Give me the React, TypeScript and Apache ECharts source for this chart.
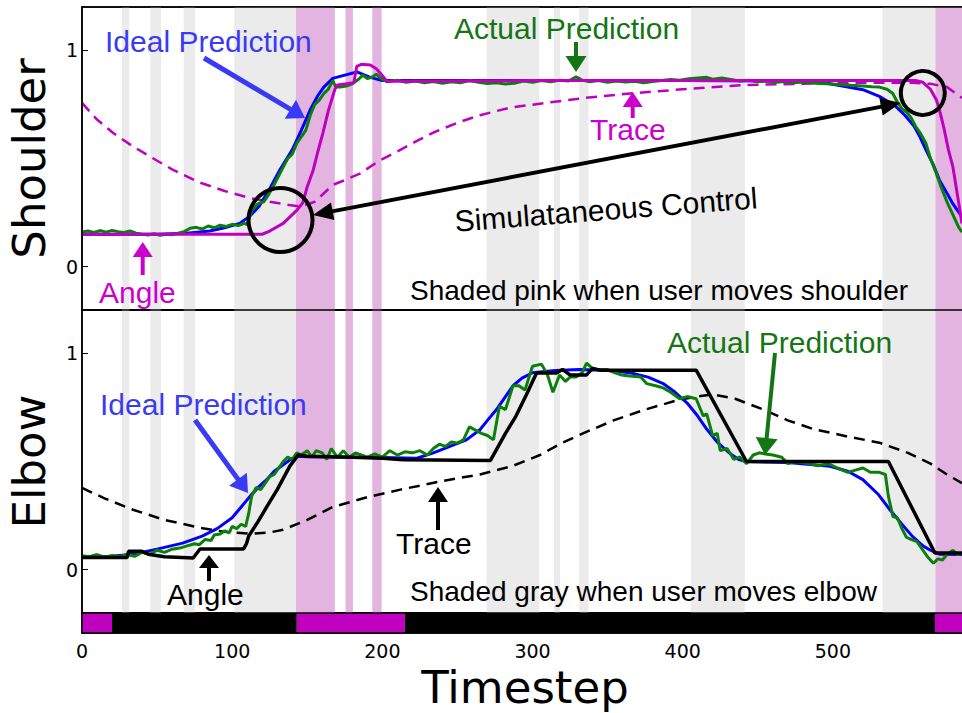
import React, { useEffect, useRef } from "react";
import * as echarts from "echarts";

// ---------- data ----------
const grayBands: [number, number][] = [
  [26.6, 31.5], [45.5, 52.6], [67.7, 75.4], [101.4, 142.5], [269.4, 304.5],
  [314.3, 318.3], [331.1, 337.3], [405.4, 441.4], [533, 568.3],
];
const pinkBands: [number, number][] = [
  [142.5, 168.4], [175.5, 180.4], [193.3, 199.5], [568.3, 600],
];
const stripMagenta: [number, number][] = [[0, 20], [143, 215], [568, 600]];
const stripBlack: [number, number][] = [[20, 143], [215, 568]];
const xTickLabels = [0, 100, 200, 300, 400, 500];
const yTickLabels = [0, 1];

// Shoulder panel
const shoulderIdeal: [number, number][] = [
  [0, 0.15], [50, 0.15], [70, 0.155], [85, 0.165], [95, 0.18], [105, 0.2], [112, 0.235],
  [118, 0.28], [125, 0.36], [132, 0.45], [140, 0.54], [146, 0.63], [152, 0.725], [157, 0.79],
  [161, 0.83], [167, 0.87], [175, 0.885], [183, 0.9], [192, 0.875], [200, 0.86], [300, 0.86],
  [400, 0.86], [470, 0.858], [490, 0.852], [498, 0.845], [510, 0.83], [520, 0.818], [531, 0.787],
  [542, 0.74], [548, 0.7], [554, 0.65], [558, 0.6], [562, 0.54], [567, 0.47], [571, 0.4],
  [576, 0.34], [580, 0.29], [586, 0.23],
];
const shoulderActual: [number, number][] = [
  [0, 0.16], [4, 0.165], [8, 0.158], [12, 0.167], [16, 0.16], [20, 0.168], [24, 0.162],
  [28, 0.158], [32, 0.165], [36, 0.155], [40, 0.15], [44, 0.146], [48, 0.152], [52, 0.145],
  [56, 0.15], [60, 0.148], [64, 0.155], [68, 0.162], [72, 0.178], [76, 0.182], [80, 0.174],
  [84, 0.188], [88, 0.18], [92, 0.192], [96, 0.186], [100, 0.196], [104, 0.19], [108, 0.2],
  [110, 0.195], [113, 0.26], [117, 0.29], [121, 0.3], [124, 0.33], [128, 0.38], [131, 0.42],
  [134, 0.46], [137, 0.5], [140, 0.52], [143, 0.57], [146, 0.6], [149, 0.63], [152, 0.7],
  [155, 0.75], [158, 0.77], [161, 0.8], [164, 0.82], [167, 0.86], [169, 0.83], [172, 0.83],
  [176, 0.835], [180, 0.845], [184, 0.865], [187, 0.885], [190, 0.87], [193, 0.875],
  [196, 0.89], [199, 0.87], [203, 0.855], [210, 0.862], [216, 0.852], [222, 0.858],
  [228, 0.85], [234, 0.856], [240, 0.848], [246, 0.855], [252, 0.85], [258, 0.86],
  [264, 0.852], [270, 0.846], [276, 0.85], [282, 0.844], [288, 0.848], [294, 0.858],
  [300, 0.852], [306, 0.86], [312, 0.855], [318, 0.862], [324, 0.858], [329, 0.878],
  [333, 0.862], [338, 0.855], [344, 0.86], [350, 0.852], [356, 0.858], [362, 0.853],
  [368, 0.857], [374, 0.85], [380, 0.856], [386, 0.86], [392, 0.865], [398, 0.862],
  [404, 0.868], [410, 0.872], [416, 0.875], [420, 0.866], [426, 0.872], [432, 0.865],
  [438, 0.858], [444, 0.862], [450, 0.855], [456, 0.858], [462, 0.852], [468, 0.856],
  [474, 0.85], [480, 0.853], [488, 0.848], [496, 0.845], [504, 0.842], [512, 0.838],
  [520, 0.835], [526, 0.832], [531, 0.83], [536, 0.82], [540, 0.8], [543, 0.76],
  [546, 0.73], [549, 0.715], [552, 0.69], [555, 0.65], [558, 0.62], [562, 0.57], [565, 0.5],
  [569, 0.43], [572, 0.37], [576, 0.3], [580, 0.24], [584, 0.18], [586, 0.16],
];
const shoulderAngle: [number, number][] = [
  [0, 0.15], [120, 0.15], [125, 0.165], [134, 0.2], [143, 0.26], [147, 0.295], [150, 0.37],
  [154, 0.447], [157, 0.53], [160.5, 0.62], [164, 0.72], [168.4, 0.82], [170, 0.84],
  [176, 0.845], [181, 0.85], [183, 0.926], [186, 0.935], [192, 0.932], [196, 0.915],
  [199.5, 0.887], [203, 0.857], [300, 0.86], [400, 0.86], [500, 0.86], [555, 0.86],
  [560, 0.852], [565, 0.82], [569, 0.77], [571, 0.725], [574, 0.64], [577, 0.54],
  [580, 0.46], [583, 0.33], [586, 0.2],
];
const shoulderTrace: [number, number][] = [
  [0, 0.757], [10, 0.68], [21, 0.617], [33, 0.56], [45, 0.51], [60, 0.45], [78, 0.39],
  [95, 0.35], [112, 0.317], [125, 0.3], [138, 0.285], [146, 0.278], [155, 0.3], [167, 0.378],
  [175, 0.4], [185, 0.43], [198, 0.49], [212, 0.54], [224, 0.585], [234, 0.62], [250, 0.665],
  [265, 0.7], [285, 0.735], [309, 0.757], [335, 0.78], [365, 0.8], [400, 0.82], [442, 0.84],
  [480, 0.845], [509, 0.85], [553, 0.85], [565, 0.845], [576, 0.83], [586, 0.78],
];

// Elbow panel
const elbowIdeal: [number, number][] = [
  [0, 0.058], [20, 0.062], [34, 0.072], [50, 0.095], [67, 0.123], [80, 0.155], [90, 0.19],
  [100, 0.24], [106, 0.29], [112, 0.34], [118, 0.385], [123, 0.416], [128, 0.455],
  [134, 0.485], [139, 0.51], [143, 0.524], [150, 0.522], [200, 0.518], [223, 0.515],
  [234, 0.54], [245, 0.57], [256, 0.6], [265, 0.647], [270, 0.69], [276, 0.74], [282, 0.8],
  [287, 0.85], [293, 0.885], [300, 0.91], [315, 0.92], [331, 0.925], [350, 0.92],
  [365, 0.91], [377, 0.89], [387, 0.86], [395, 0.82], [403, 0.77], [410, 0.71], [416, 0.65],
  [423, 0.59], [431, 0.54], [437, 0.51], [442, 0.5], [470, 0.495], [498, 0.478],
  [510, 0.455], [520, 0.416], [530, 0.35], [538, 0.277], [546, 0.21], [553, 0.154],
  [560, 0.11], [565, 0.09], [571, 0.072], [586, 0.07],
];
const elbowActual: [number, number][] = [
  [0, 0.065], [5, 0.06], [10, 0.07], [15, 0.058], [20, 0.066], [25, 0.06], [30, 0.07],
  [35, 0.062], [40, 0.08], [45, 0.07], [50, 0.09], [55, 0.08], [60, 0.095], [65, 0.1],
  [70, 0.11], [75, 0.12], [78, 0.115], [82, 0.14], [86, 0.135], [88, 0.16], [92, 0.165],
  [95, 0.18], [98, 0.17], [100, 0.2], [103, 0.19], [106, 0.21], [109, 0.2], [111, 0.26],
  [113, 0.34], [116, 0.38], [119, 0.37], [122, 0.4], [125, 0.43], [128, 0.44], [131, 0.47],
  [134, 0.5], [137, 0.52], [140, 0.51], [143, 0.54], [146, 0.53], [150, 0.55], [153, 0.52],
  [156, 0.55], [160, 0.54], [163, 0.51], [166, 0.56], [170, 0.52], [174, 0.55], [178, 0.52],
  [182, 0.54], [186, 0.53], [190, 0.52], [195, 0.535], [200, 0.52], [205, 0.55], [210, 0.53],
  [215, 0.545], [220, 0.54], [225, 0.55], [230, 0.53], [234, 0.56], [238, 0.58], [242, 0.57],
  [246, 0.59], [250, 0.585], [254, 0.6], [258, 0.66], [262, 0.645], [266, 0.63], [270, 0.62],
  [274, 0.6], [278, 0.755], [282, 0.74], [287, 0.85], [291, 0.85], [295, 0.83], [300, 0.94],
  [306, 0.95], [310, 0.9], [313.6, 0.82], [318, 0.9], [322, 0.87], [325, 0.89], [329, 0.89],
  [333, 0.91], [336, 0.955], [340, 0.93], [343, 0.925], [350, 0.925], [355, 0.91],
  [359, 0.9], [365, 0.895], [372, 0.89], [376, 0.86], [382, 0.85], [387, 0.84], [392, 0.82],
  [398, 0.79], [403, 0.8], [409, 0.79], [413.7, 0.71], [416, 0.72], [420, 0.62], [423, 0.63],
  [425, 0.55], [429.6, 0.56], [434, 0.51], [438, 0.52], [442.6, 0.49], [447, 0.53],
  [451, 0.54], [455, 0.535], [460, 0.53], [466, 0.52], [470, 0.49], [475, 0.5],
  [480, 0.495], [485, 0.49], [490, 0.48], [497, 0.49], [503, 0.47], [510, 0.45],
  [515, 0.46], [520, 0.47], [525, 0.45], [531, 0.45], [535, 0.44], [537, 0.34],
  [540, 0.246], [543, 0.24], [546, 0.19], [549, 0.15], [552, 0.14], [556, 0.13],
  [560, 0.09], [563, 0.06], [567, 0.03], [570, 0.05], [573, 0.045], [576, 0.07],
  [580, 0.09], [583, 0.07], [586, 0.075],
];
const elbowAngle: [number, number][] = [
  [0, 0.056], [30, 0.056], [31, 0.085], [40, 0.085], [45, 0.07], [55, 0.06], [74, 0.054],
  [78.6, 0.096], [107.6, 0.096], [109.5, 0.12], [111, 0.155], [117, 0.22], [123, 0.29],
  [130, 0.37], [138.5, 0.48], [144, 0.53], [150, 0.524], [180, 0.52], [200, 0.515],
  [214, 0.508], [272, 0.505], [276, 0.555], [282, 0.63], [289, 0.71], [296, 0.81],
  [302.7, 0.909], [316, 0.909], [320, 0.925], [325, 0.9], [336, 0.9], [340, 0.93],
  [345, 0.922], [409, 0.922], [442.5, 0.5], [537, 0.5], [568, 0.077], [586, 0.077],
];
const elbowTrace: [number, number][] = [
  [0, 0.378], [15, 0.33], [34, 0.277], [55, 0.23], [78.6, 0.194], [95, 0.175], [112, 0.166],
  [125, 0.172], [134, 0.185], [150, 0.23], [167, 0.29], [190, 0.335], [212, 0.37],
  [240, 0.41], [265, 0.44], [287, 0.48], [305, 0.53], [320, 0.587], [337, 0.64], [354, 0.69],
  [375, 0.74], [398, 0.786], [410, 0.8], [420, 0.81], [435, 0.79], [453.7, 0.74],
  [470, 0.69], [487, 0.65], [510, 0.615], [531, 0.587], [550, 0.54], [565, 0.49],
  [576, 0.44], [586, 0.4],
];

// ---------- styles ----------
const BLUE = "#0000ff";
const GREEN = "#0a800a";
const MAG = "#bf00bf";
const BLACK = "#000000";
const TXT_BLUE = "#3a3af5";
const TXT_GREEN = "#147514";
const TXT_MAG = "#cc00cc";
const GRAY_BAND = "#ebebeb";
const PINK_BAND = "#e3b4e0";
const ANN_FONT = "Liberation Sans";
const AXIS_FONT = "DejaVu Sans";

function arrow(
  x1: number, y1: number, x2: number, y2: number,
  color: string, lw: number, hl: number, hw: number, both = false
) {
  const dx = x2 - x1, dy = y2 - y1;
  const L = Math.hypot(dx, dy);
  const ux = dx / L, uy = dy / L;
  const px = -uy, py = ux;
  const sx = both ? x1 + ux * hl * 0.9 : x1;
  const sy = both ? y1 + uy * hl * 0.9 : y1;
  const ex = x2 - ux * hl * 0.9, ey = y2 - uy * hl * 0.9;
  const head = (tx: number, ty: number, ax: number, ay: number) => ({
    type: "polygon", z: 100,
    shape: {
      points: [
        [tx, ty],
        [tx - ax * hl + px * hw / 2, ty - ay * hl + py * hw / 2],
        [tx - ax * hl - px * hw / 2, ty - ay * hl - py * hw / 2],
      ],
    },
    style: { fill: color },
  });
  const els: any[] = [
    { type: "line", z: 100, shape: { x1: sx, y1: sy, x2: ex, y2: ey }, style: { stroke: color, lineWidth: lw } },
    head(x2, y2, ux, uy),
  ];
  if (both) els.push(head(x1, y1, -ux, -uy));
  return els;
}

function label(text: string, x: number, y: number, color: string, size = 30, align = "left", rotation = 0) {
  return {
    type: "text", z: 101, x, y, rotation,
    style: { text, fill: color, fontSize: size, fontFamily: ANN_FONT, align, verticalAlign: "middle" },
  };
}

function bandArea(bands: [number, number][], color: string) {
  return bands.map(([a, b]) => [
    { xAxis: a, itemStyle: { color } },
    { xAxis: b },
  ]);
}

function lineSeries(name: string, data: [number, number][], xIdx: number, yIdx: number, color: string, width: number, dashed = false, z = 3) {
  return {
    name, type: "line", data, xAxisIndex: xIdx, yAxisIndex: yIdx,
    showSymbol: false, symbol: "none", z,
    lineStyle: { color, width, type: dashed ? [11, 7] : "solid" },
    silent: true,
  };
}

export default function App() {
  const ref = useRef<HTMLDivElement>(null);
  useEffect(() => {
    if (!ref.current) return;
    const chart = echarts.init(ref.current, undefined, { renderer: "svg" });
    const gridCommon = {
      left: 82, width: 901, show: true, borderColor: "#000", borderWidth: 1.5,
      backgroundColor: "transparent", containLabel: false, outerBoundsMode: "none",
    };
    const frameLine = { show: true, onZero: false, lineStyle: { color: "#000", width: 1.5 } };
    const xFrame = (gridIndex: number, position: string) => ({
      type: "value", gridIndex, position, min: 0, max: 600, z: 10,
      axisLine: frameLine, axisTick: { show: false }, axisLabel: { show: false }, splitLine: { show: false },
    });
    const yPanel = (name: string, gridIndex: number) => ({
      type: "value", gridIndex, min: -0.2, max: 1.2, z: 10,
      name, nameLocation: "middle", nameGap: 30,
      nameTextStyle: { fontSize: 45, fontFamily: AXIS_FONT, color: "#000" },
      axisLine: frameLine,
      axisTick: { show: true, inside: true, length: 6, customValues: yTickLabels, lineStyle: { color: "#000", width: 1 } },
      axisLabel: { customValues: yTickLabels, fontSize: 19, fontFamily: AXIS_FONT, color: "#000", margin: 4 },
      splitLine: { show: false },
    });

    const graphics: any[] = [
      // top panel annotations
      label("Ideal Prediction", 105, 41, TXT_BLUE),
      ...arrow(204, 58, 305, 118, TXT_BLUE, 5, 17, 22),
      label("Actual Prediction", 454, 28, TXT_GREEN),
      ...arrow(576, 42, 576, 72, TXT_GREEN, 4, 16, 21),
      label("Trace", 590, 129, TXT_MAG),
      ...arrow(632.7, 118, 632.7, 92, TXT_MAG, 4, 15, 20),
      label("Angle", 99, 292, TXT_MAG),
      ...arrow(142.7, 275, 142.7, 242, TXT_MAG, 4, 15, 20),
      ...arrow(313, 215, 900.7, 103, BLACK, 4, 20, 18, true),
      { type: "circle", z: 100, shape: { cx: 280.5, cy: 220, r: 32 }, style: { fill: "none", stroke: BLACK, lineWidth: 4 } },
      { type: "circle", z: 100, shape: { cx: 922.8, cy: 93, r: 22 }, style: { fill: "none", stroke: BLACK, lineWidth: 4 } },
      label("Simulataneous Control", 606, 209.5, BLACK, 30, "center", (4.5 * Math.PI) / 180),
      label("Shaded pink when user moves shoulder", 410, 290, BLACK, 28),
      // bottom panel annotations
      label("Ideal Prediction", 100, 404.5, TXT_BLUE),
      ...arrow(195, 420, 248, 493, TXT_BLUE, 5, 17, 22),
      label("Actual Prediction", 667, 342, TXT_GREEN),
      ...arrow(775, 353, 765, 455, TXT_GREEN, 4, 17, 22),
      label("Trace", 396, 543, BLACK),
      ...arrow(438, 530, 438, 487, BLACK, 4, 15, 20),
      label("Angle", 167, 594.5, BLACK),
      ...arrow(209, 581, 209, 555, BLACK, 4, 13, 20),
      label("Shaded gray when user moves elbow", 410, 591.7, BLACK, 28),
    ];

    chart.setOption({
      animation: false,
      backgroundColor: "#ffffff",
      grid: [
        { ...gridCommon, top: 7, height: 303 },
        { ...gridCommon, top: 310, height: 303 },
        { ...gridCommon, top: 613, height: 20 },
      ],
      xAxis: [
        xFrame(0, "bottom"), // 0: top panel bottom frame
        xFrame(0, "top"), // 1: top panel top frame
        xFrame(1, "bottom"), // 2: bottom panel bottom frame
        {
          ...xFrame(2, "bottom"), // 3: strip axis with labels
          axisLabel: { show: true, customValues: xTickLabels, fontSize: 19, fontFamily: AXIS_FONT, color: "#000", margin: 8 },
          name: "Timestep", nameLocation: "middle", nameGap: 32,
          nameTextStyle: { fontSize: 45, fontFamily: AXIS_FONT, color: "#000", padding: [0, 15, 0, 0] },
        },
      ],
      yAxis: [
        yPanel("Shoulder", 0),
        yPanel("Elbow", 1),
        { type: "value", gridIndex: 2, min: 0, max: 1, z: 10, axisLine: frameLine, axisTick: { show: false }, axisLabel: { show: false }, splitLine: { show: false } },
      ],
      series: [
        {
          type: "line", name: "bands-top", xAxisIndex: 0, yAxisIndex: 0, data: [], z: 1, silent: true,
          markArea: { silent: true, data: [...bandArea(grayBands, GRAY_BAND), ...bandArea(pinkBands, PINK_BAND)] },
        },
        {
          type: "line", name: "bands-bottom", xAxisIndex: 2, yAxisIndex: 1, data: [], z: 1, silent: true,
          markArea: { silent: true, data: [...bandArea(grayBands, GRAY_BAND), ...bandArea(pinkBands, PINK_BAND)] },
        },
        {
          type: "line", name: "strip", xAxisIndex: 3, yAxisIndex: 2, data: [], z: 1, silent: true,
          markArea: { silent: true, data: [...bandArea(stripMagenta, MAG), ...bandArea(stripBlack, BLACK)] },
        },
        lineSeries("Shoulder trace", shoulderTrace, 0, 0, MAG, 2.5, true, 3),
        lineSeries("Shoulder ideal", shoulderIdeal, 0, 0, BLUE, 3, false, 4),
        lineSeries("Shoulder actual", shoulderActual, 0, 0, GREEN, 3, false, 5),
        lineSeries("Shoulder angle", shoulderAngle, 0, 0, MAG, 3, false, 6),
        lineSeries("Elbow trace", elbowTrace, 2, 1, BLACK, 2.5, true, 3),
        lineSeries("Elbow ideal", elbowIdeal, 2, 1, BLUE, 3, false, 4),
        lineSeries("Elbow actual", elbowActual, 2, 1, GREEN, 3, false, 5),
        lineSeries("Elbow angle", elbowAngle, 2, 1, BLACK, 3.5, false, 6),
      ],
      graphic: { elements: graphics },
    });
    return () => chart.dispose();
  }, []);
  return <div ref={ref} style={{ position: "absolute", left: 0, top: 0, width: 962, height: 713 }} />;
}
